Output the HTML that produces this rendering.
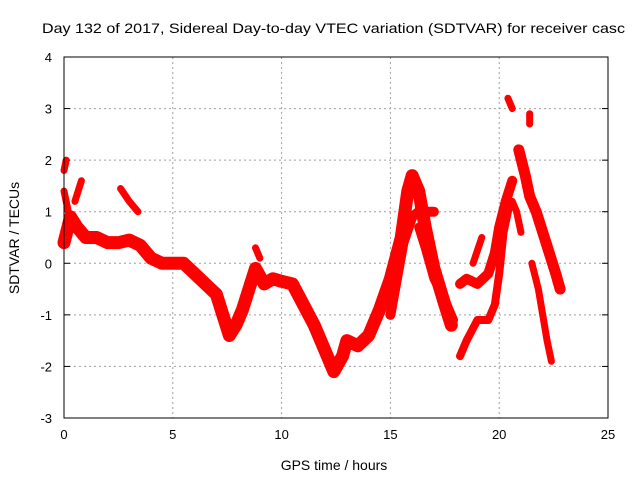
<!DOCTYPE html>
<html><head><meta charset="utf-8"><style>
body{margin:0;background:#fff}
svg{display:block;font-family:"Liberation Sans",sans-serif}
</style></head><body>
<svg id="chart" width="640" height="480">
<text x="42" y="33" font-size="14" textLength="583" lengthAdjust="spacingAndGlyphs">Day 132 of 2017, Sidereal Day-to-day VTEC variation (SDTVAR) for receiver casc</text>
<text x="334" y="470" font-size="14" text-anchor="middle">GPS time / hours</text>
<text transform="translate(19,238) rotate(-90)" font-size="14" text-anchor="middle">SDTVAR / TECUs</text>
<g id="grid"></g><g id="ticks"></g><g id="marks"></g>
<rect x="64" y="57" width="544" height="361" fill="none" stroke="#000" stroke-width="1"/>
</svg>
<script>
const xTicks=[0,5,10,15,20,25];
const yTicks=[-3,-2,-1,0,1,2,3,4];
const trackMain=[[0,0.4],[0.3,0.9],[0.6,0.7],[1,0.5],[1.5,0.5],[2,0.4],[2.5,0.4],[3,0.45],[3.5,0.35],[4,0.1],[4.5,0],[5,0],[5.5,0],[6,-0.2],[6.5,-0.4],[7,-0.6],[7.3,-1.0],[7.6,-1.4],[7.9,-1.2],[8.2,-0.9],[8.5,-0.5],[8.8,-0.1],[9.2,-0.4],[9.6,-0.3],[10,-0.35],[10.5,-0.4],[11,-0.8],[11.5,-1.2],[12,-1.7],[12.4,-2.1],[12.8,-1.8],[13,-1.5],[13.5,-1.6],[14,-1.4],[14.5,-0.9],[15,-0.3],[15.5,0.5],[15.8,1.4],[16,1.7],[16.3,1.4],[16.6,0.7],[17,-0.1],[17.5,-0.8],[17.8,-1.2]];
const trackHump2=[[15,-1.0],[15.3,-0.3],[15.6,0.4],[16,0.9],[16.3,1.0],[16.6,1.0],[17,1.0]];
const trackHump3=[[16.3,0.7],[16.6,0.3],[17,-0.3],[17.5,-0.7],[17.9,-1.1]];
const trackMid=[[18.2,-0.4],[18.5,-0.3],[19,-0.4],[19.5,-0.2],[19.8,0.2],[20,0.7],[20.3,1.2],[20.6,1.6]];
const trackLow=[[18.2,-1.8],[18.5,-1.5],[19,-1.1],[19.5,-1.1],[19.8,-0.8],[20,-0.2],[20.2,0.6],[20.5,1.2]];
const trackFall=[[20.9,2.2],[21.2,1.7],[21.4,1.3],[21.7,1.0],[22,0.6],[22.3,0.2],[22.6,-0.2],[22.8,-0.5]];
const trackDrop=[[21.5,0.0],[21.8,-0.5],[22,-1.0],[22.2,-1.5],[22.4,-1.9]];
const trackBits=[[[0,1.8],[0.1,2.0]],[[0.5,1.2],[0.8,1.6]],[[2.6,1.45],[3,1.2],[3.4,1.0]],[[0,1.4],[0.2,1.0],[0.4,0.7]],[[8.8,0.3],[9,0.1]],[[20.4,3.2],[20.6,3.0]],[[21.4,2.9],[21.4,2.7]],[[20.6,1.2],[20.8,1.0],[21,0.6]],[[18.8,0.0],[19.2,0.5]]];
const sx=t=>64+t*544/25, sy=v=>57+(4-v)*361/7;
const NS='http://www.w3.org/2000/svg';
const grid=document.getElementById('grid'),ticks=document.getElementById('ticks'),marks=document.getElementById('marks');
function mk(tag,attrs,parent){const e=document.createElementNS(NS,tag);for(const k in attrs)e.setAttribute(k,attrs[k]);parent.appendChild(e);return e;}
xTicks.forEach(t=>{
 if(t>0&&t<25){const g=mk('line',{x1:sx(t),x2:sx(t),y1:57,y2:418,stroke:'#a0a0a0','stroke-dasharray':'2,3'},grid);
 
 }
 const l=mk('text',{x:sx(t),y:439,'font-size':13,'text-anchor':'middle'},ticks);l.textContent=t;
 
 
});
yTicks.forEach(v=>{
 if(v>-3&&v<4){const g=mk('line',{x1:64,x2:608,y1:sy(v),y2:sy(v),stroke:'#a0a0a0','stroke-dasharray':'2,3'},grid);
 
 }
 mk('line',{x1:64,x2:70,y1:sy(v),y2:sy(v),stroke:'#000'},ticks);
 mk('line',{x1:602,x2:608,y1:sy(v),y2:sy(v),stroke:'#000'},ticks);
 const l=mk('text',{x:52,y:sy(v)+5,'font-size':13,'text-anchor':'end'},ticks);l.textContent=v;
 
 
});
function draw(tr,w){
 const p=mk('polyline',{points:tr.map(d=>sx(d[0])+','+sy(d[1])).join(' '),fill:'none',stroke:'#ff0000','stroke-width':w,'stroke-linejoin':'round','stroke-linecap':'round'},marks);
 
 
}
draw(trackMain,13);draw(trackHump2,10);draw(trackHump3,9);draw(trackMid,10);draw(trackLow,8);draw(trackFall,11);draw(trackDrop,7);
trackBits.forEach(b=>draw(b,7));
</script>
</body></html>
